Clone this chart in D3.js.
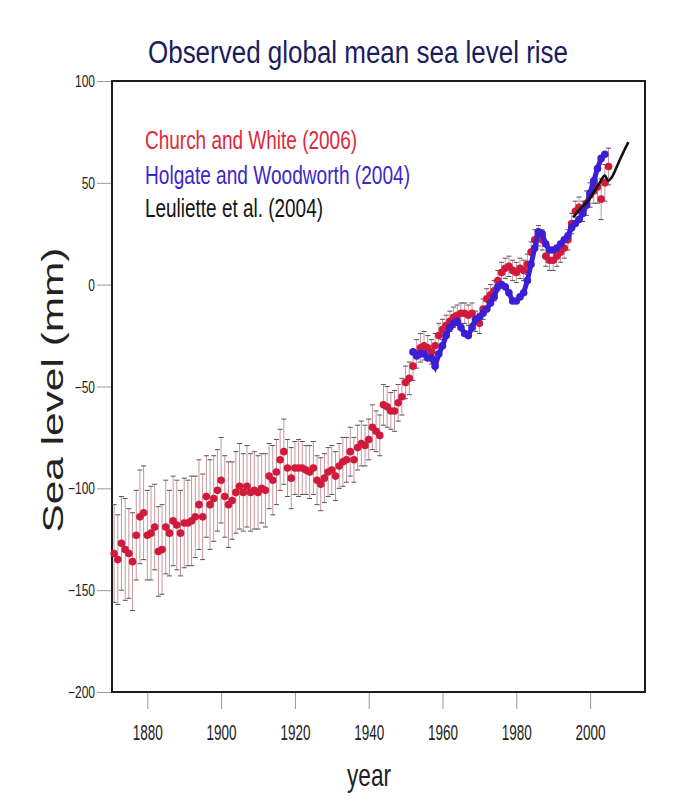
<!DOCTYPE html>
<html>
<head>
<meta charset="utf-8">
<script src="https://cdn.jsdelivr.net/npm/d3@7"></script>
<style>
  body { margin: 0; background: #fff; }
  text { font-family: "Liberation Sans", Arial, sans-serif; }
</style>
</head>
<body>
<div class="chart"></div>
<script>
// Church and White (2006), annual, 1871-2005
var churchYears = d3.range(1871, 2006);
var churchValues = [
  -132, -135, -127, -130, -132, -136, -123, -114, -112,
  -123, -122, -119, -131, -130, -119, -122, -116, -118, -122,
  -117, -117, -116, -114, -108, -114, -104, -108, -105, -101,
  -96, -104, -108, -106, -102, -99, -102, -99, -102, -101,
  -102, -100, -101, -94, -96, -92, -86, -82, -90, -95,
  -90, -90, -90, -91, -92, -90, -96, -98, -95, -92,
  -91, -94, -89, -87, -86, -82, -86, -80, -78, -79,
  -76, -70, -72, -74, -59, -60, -62, -62, -58, -55,
  -48, -46, -40, -34, -31, -30, -31, -33, -30, -25,
  -22, -20, -18, -16, -15, -14, -14, -15, -14, -18,
  -19, -12, -7, -5, -3, 2, 6, 8, 9, 7,
  6, 8, 7, 10, 16, 22, 24, 22, 14, 12,
  12, 14, 16, 18, 22, 30, 36, 38, 36, 40,
  44, 46, 48, 42, 50, 58
];
var churchErrors = [
  24, 22, 23, 25, 22, 24, 22, 23, 23,
  22, 23, 21, 22, 22, 23, 21, 22, 22, 21,
  22, 21, 22, 20, 22, 21, 20, 22, 21, 20,
  21, 20, 21, 19, 20, 21, 19, 20, 19, 19,
  18, 17, 18, 16, 17, 16, 15, 16, 14, 15,
  13, 14, 13, 12, 13, 13, 12, 13, 12, 12,
  12, 12, 11, 12, 11, 12, 11, 11, 11, 10,
  10, 11, 10, 10, 10, 10, 9, 10, 9, 9,
  8, 8, 7, 7, 7, 7, 6, 6, 6, 6,
  5, 5, 5, 5, 5, 5, 5, 5, 5, 5,
  5, 5, 5, 5, 5, 5, 5, 5, 5, 5,
  5, 5, 5, 5, 5, 5, 5, 5, 5, 5,
  5, 5, 5, 5, 5, 5, 5, 5, 5, 6,
  6, 6, 8, 10, 9, 9
];

// Holgate and Woodworth (2004), 1952-2004
var holgateYears = d3.range(1952, 2005);
var holgateValues = [
  -33, -35, -34, -34, -36, -36, -40, -34,
  -30, -25, -21, -19, -18, -21, -24, -25, -21, -17,
  -16, -14, -12, -9, -6, -1, 0, -1, -4, -8,
  -8, -6, -4, 2, 10, 18, 26, 25, 20, 17,
  17, 18, 20, 22, 24, 28, 30, 32, 35, 39,
  45, 51, 57, 62, 64
];

// Leuliette et al. (2004)
var leulietteYears = [1995.4, 1997.2, 1999.4, 2001.2, 2002.6, 2004.0, 2004.9, 2005.9, 2007.2, 2008.6, 2009.9, 2010.4];
var leulietteValues = [33, 37, 41, 46, 50, 53.6, 51, 52.8, 57.7, 63.4, 68.3, 70];

var xTicks = [1880, 1900, 1920, 1940, 1960, 1980, 2000];
var yTicks = [-200, -150, -100, -50, 0, 50, 100];

var legendItems = ["Church and White (2006)", "Holgate and Woodworth (2004)", "Leuliette et al. (2004)"];

var width = 684,
    height = 803,
    margin = {top: 81, right: 39, bottom: 111, left: 112},
    w = width - margin.left - margin.right,
    h = height - margin.top - margin.bottom;

var svg = d3.select(".chart").append("svg")
    .attr("width", width)
    .attr("height", height);

var g = svg.append("g")
    .attr("transform", "translate(" + margin.left + "," + margin.top + ")");

var x = d3.scaleLinear().domain([1870.43, 2014.88]).range([0, w]);
var y = d3.scaleLinear().domain([-200, 100]).range([h, 0]);

// axes
var xAxis = g.append("g")
    .attr("transform", "translate(0," + h + ")")
    .call(d3.axisBottom(x).tickValues(xTicks).tickSize(17).tickFormat(d3.format("d")));
xAxis.select(".domain").remove();
xAxis.selectAll("line").attr("stroke", "#9a9a9a");
xAxis.selectAll("text")
    .attr("y", 0).attr("dy", 0)
    .attr("transform", "translate(0,48) scale(1,1.7)")
    .attr("fill", "#222")
    .style("font-size", "13.5px");

var yAxis = g.append("g")
    .call(d3.axisLeft(y).tickValues(yTicks).tickSize(15));
yAxis.select(".domain").remove();
yAxis.selectAll("line").attr("stroke", "#9a9a9a");
yAxis.selectAll("text")
    .attr("x", 0).attr("dy", 0)
    .attr("transform", "translate(-17,5.5) scale(1,1.3)")
    .attr("fill", "#222")
    .style("font-size", "12px");

// frame
g.append("rect")
    .attr("width", w)
    .attr("height", h)
    .attr("fill", "none")
    .attr("stroke", "#1c1c1c")
    .attr("stroke-width", 2);

var church = churchYears.map(function (yr, i) {
  return {year: yr, value: churchValues[i], err: churchErrors[i]};
});

// error bars
var eb = g.append("g").selectAll(".eb")
    .data(church)
    .enter().append("g")
    .attr("class", "eb");
eb.append("line")
    .attr("x1", function (d) { return x(d.year); })
    .attr("x2", function (d) { return x(d.year); })
    .attr("y1", function (d) { return y(d.value - d.err); })
    .attr("y2", function (d) { return y(d.value + d.err); })
    .attr("stroke", "#c4979d")
    .attr("stroke-width", 1);
eb.selectAll(".cap")
    .data(function (d) { return [d.value - d.err, d.value + d.err].map(function (v) { return {year: d.year, v: v}; }); })
    .enter().append("line")
    .attr("x1", function (d) { return x(d.year) - 2.5; })
    .attr("x2", function (d) { return x(d.year) + 2.5; })
    .attr("y1", function (d) { return y(d.v); })
    .attr("y2", function (d) { return y(d.v); })
    .attr("stroke", "#555")
    .attr("stroke-width", 1);

// red points
g.append("g").selectAll("circle")
    .data(church)
    .enter().append("circle")
    .attr("cx", function (d) { return x(d.year); })
    .attr("cy", function (d) { return y(d.value); })
    .attr("r", 3.8)
    .attr("fill", "#d01a3c");

// blue series
var holgate = holgateYears.map(function (yr, i) { return [yr, holgateValues[i]]; });
var line = d3.line()
    .x(function (d) { return x(d[0]); })
    .y(function (d) { return y(d[1]); });
g.append("path")
    .datum(holgate)
    .attr("d", line)
    .attr("fill", "none")
    .attr("stroke", "#3a1fd4")
    .attr("stroke-width", 5);
g.append("g").selectAll("circle")
    .data(holgate)
    .enter().append("circle")
    .attr("cx", function (d) { return x(d[0]); })
    .attr("cy", function (d) { return y(d[1]); })
    .attr("r", 3.8)
    .attr("fill", "#3a1fd4");

// black series
var leuliette = leulietteYears.map(function (yr, i) { return [yr, leulietteValues[i]]; });
g.append("path")
    .datum(leuliette)
    .attr("d", line.curve(d3.curveMonotoneX))
    .attr("fill", "none")
    .attr("stroke", "#111")
    .attr("stroke-width", 2.6);

// legend
var legendColors = ["#e0283c", "#3a28c8", "#141414"];
var legendWidths = [212, 265, 178];
var legendBase = [149, 184, 217];
svg.append("g").selectAll("text")
    .data(legendItems)
    .enter().append("text")
    .attr("x", 145)
    .attr("y", function (d, i) { return legendBase[i]; })
    .attr("fill", function (d, i) { return legendColors[i]; })
    .attr("textLength", function (d, i) { return legendWidths[i]; })
    .attr("lengthAdjust", "spacingAndGlyphs")
    .style("font-size", "25px")
    .text(function (d) { return d; });

// title and axis labels
svg.append("text")
    .attr("x", 358)
    .attr("y", 63)
    .attr("text-anchor", "middle")
    .attr("fill", "#1b1b5e")
    .attr("textLength", 420)
    .attr("lengthAdjust", "spacingAndGlyphs")
    .style("font-size", "31px")
    .text("Observed global mean sea level rise");

svg.append("text")
    .attr("transform", "translate(63,390) rotate(-90)")
    .attr("text-anchor", "middle")
    .attr("fill", "#222")
    .attr("textLength", 285)
    .attr("lengthAdjust", "spacingAndGlyphs")
    .style("font-size", "29px")
    .text("Sea level (mm)");

svg.append("text")
    .attr("x", 369)
    .attr("y", 786)
    .attr("text-anchor", "middle")
    .attr("fill", "#222")
    .attr("textLength", 44)
    .attr("lengthAdjust", "spacingAndGlyphs")
    .style("font-size", "32px")
    .text("year");
</script>
</body>
</html>
